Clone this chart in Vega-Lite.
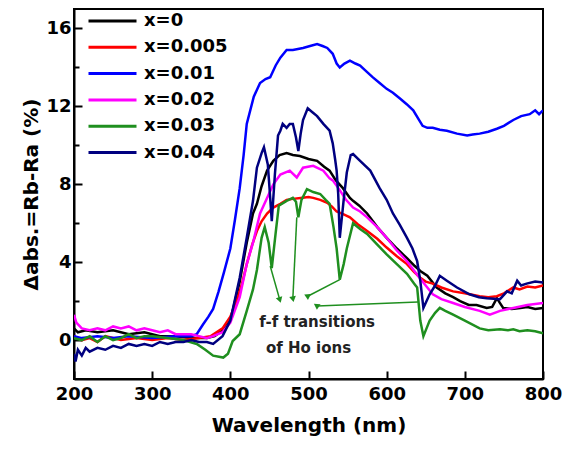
{
  "$schema": "https://vega.github.io/schema/vega-lite/v6.json",
  "autosize": "none",
  "width": 469,
  "height": 370,
  "padding": {"left": 74, "top": 9, "right": 22, "bottom": 77},
  "background": "white",
  "config": {
    "view": {"stroke": "black", "strokeWidth": 2},
    "font": "DejaVu Sans"
  },
  "datasets": {
    "curves": [
      {"s":"x=0","wl":200,"v":0.6},{"s":"x=0","wl":205,"v":0.4},{"s":"x=0","wl":215,"v":0.5},{"s":"x=0","wl":230,"v":0.4},{"s":"x=0","wl":250,"v":0.5},{"s":"x=0","wl":270,"v":0.3},{"s":"x=0","wl":290,"v":0.4},{"s":"x=0","wl":310,"v":0.2},{"s":"x=0","wl":330,"v":0.2},{"s":"x=0","wl":350,"v":0.1},{"s":"x=0","wl":370,"v":0.1},{"s":"x=0","wl":380,"v":0.2},{"s":"x=0","wl":390,"v":0.5},{"s":"x=0","wl":400,"v":1.0},{"s":"x=0","wl":412,"v":3.0},{"s":"x=0","wl":421,"v":5.0},{"s":"x=0","wl":429,"v":6.5},{"s":"x=0","wl":434,"v":7.0},{"s":"x=0","wl":440,"v":7.9},{"s":"x=0","wl":447,"v":8.7},{"s":"x=0","wl":455,"v":9.2},{"s":"x=0","wl":463,"v":9.5},{"s":"x=0","wl":472,"v":9.6},{"s":"x=0","wl":480,"v":9.5},{"s":"x=0","wl":489,"v":9.45},{"s":"x=0","wl":500,"v":9.3},{"s":"x=0","wl":511,"v":9.2},{"s":"x=0","wl":520,"v":8.9},{"s":"x=0","wl":527,"v":8.7},{"s":"x=0","wl":535,"v":8.2},{"s":"x=0","wl":544,"v":7.8},{"s":"x=0","wl":553,"v":7.3},{"s":"x=0","wl":557,"v":7.15},{"s":"x=0","wl":565,"v":6.9},{"s":"x=0","wl":575,"v":6.5},{"s":"x=0","wl":588,"v":5.8},{"s":"x=0","wl":600,"v":5.25},{"s":"x=0","wl":613,"v":4.7},{"s":"x=0","wl":626,"v":4.2},{"s":"x=0","wl":636,"v":3.8},{"s":"x=0","wl":643,"v":3.55},{"s":"x=0","wl":652,"v":3.3},{"s":"x=0","wl":664,"v":2.7},{"s":"x=0","wl":675,"v":2.4},{"s":"x=0","wl":685,"v":2.2},{"s":"x=0","wl":694,"v":2.0},{"s":"x=0","wl":705,"v":1.8},{"s":"x=0","wl":715,"v":1.8},{"s":"x=0","wl":728,"v":1.65},{"s":"x=0","wl":735,"v":1.7},{"s":"x=0","wl":741,"v":2.15},{"s":"x=0","wl":745,"v":1.9},{"s":"x=0","wl":749,"v":1.65},{"s":"x=0","wl":760,"v":1.6},{"s":"x=0","wl":771,"v":1.65},{"s":"x=0","wl":780,"v":1.7},{"s":"x=0","wl":790,"v":1.6},{"s":"x=0","wl":800,"v":1.65},

      {"s":"x=0.005","wl":200,"v":0.2},{"s":"x=0.005","wl":210,"v":0.0},{"s":"x=0.005","wl":220,"v":0.1},{"s":"x=0.005","wl":230,"v":-0.1},{"s":"x=0.005","wl":240,"v":0.2},{"s":"x=0.005","wl":260,"v":0.0},{"s":"x=0.005","wl":280,"v":0.1},{"s":"x=0.005","wl":300,"v":0.0},{"s":"x=0.005","wl":320,"v":0.1},{"s":"x=0.005","wl":340,"v":0.0},{"s":"x=0.005","wl":360,"v":0.1},{"s":"x=0.005","wl":375,"v":0.2},{"s":"x=0.005","wl":390,"v":0.6},{"s":"x=0.005","wl":400,"v":1.2},{"s":"x=0.005","wl":408,"v":2.0},{"s":"x=0.005","wl":415,"v":2.9},{"s":"x=0.005","wl":421,"v":3.9},{"s":"x=0.005","wl":428,"v":4.9},{"s":"x=0.005","wl":434,"v":5.6},{"s":"x=0.005","wl":440,"v":6.1},{"s":"x=0.005","wl":447,"v":6.5},{"s":"x=0.005","wl":455,"v":6.8},{"s":"x=0.005","wl":464,"v":7.0},{"s":"x=0.005","wl":472,"v":7.2},{"s":"x=0.005","wl":480,"v":7.25},{"s":"x=0.005","wl":490,"v":7.3},{"s":"x=0.005","wl":500,"v":7.35},{"s":"x=0.005","wl":506,"v":7.3},{"s":"x=0.005","wl":515,"v":7.2},{"s":"x=0.005","wl":524,"v":7.05},{"s":"x=0.005","wl":530,"v":6.85},{"s":"x=0.005","wl":536,"v":6.6},{"s":"x=0.005","wl":545,"v":6.45},{"s":"x=0.005","wl":553,"v":6.3},{"s":"x=0.005","wl":563,"v":5.95},{"s":"x=0.005","wl":575,"v":5.6},{"s":"x=0.005","wl":588,"v":5.2},{"s":"x=0.005","wl":600,"v":4.75},{"s":"x=0.005","wl":613,"v":4.3},{"s":"x=0.005","wl":626,"v":3.9},{"s":"x=0.005","wl":635,"v":3.5},{"s":"x=0.005","wl":643,"v":3.2},{"s":"x=0.005","wl":650,"v":3.0},{"s":"x=0.005","wl":659,"v":2.9},{"s":"x=0.005","wl":670,"v":2.7},{"s":"x=0.005","wl":685,"v":2.5},{"s":"x=0.005","wl":700,"v":2.4},{"s":"x=0.005","wl":719,"v":2.25},{"s":"x=0.005","wl":730,"v":2.2},{"s":"x=0.005","wl":741,"v":2.25},{"s":"x=0.005","wl":750,"v":2.4},{"s":"x=0.005","wl":762,"v":2.7},{"s":"x=0.005","wl":770,"v":2.6},{"s":"x=0.005","wl":780,"v":2.75},{"s":"x=0.005","wl":790,"v":2.7},{"s":"x=0.005","wl":800,"v":2.8},

      {"s":"x=0.01","wl":200,"v":0.2},{"s":"x=0.01","wl":210,"v":0.1},{"s":"x=0.01","wl":230,"v":0.2},{"s":"x=0.01","wl":250,"v":0.1},{"s":"x=0.01","wl":270,"v":0.2},{"s":"x=0.01","wl":300,"v":0.1},{"s":"x=0.01","wl":330,"v":0.2},{"s":"x=0.01","wl":350,"v":0.2},{"s":"x=0.01","wl":357,"v":0.3},{"s":"x=0.01","wl":365,"v":0.8},{"s":"x=0.01","wl":372,"v":1.2},{"s":"x=0.01","wl":378,"v":1.6},{"s":"x=0.01","wl":385,"v":2.5},{"s":"x=0.01","wl":392,"v":3.5},{"s":"x=0.01","wl":400,"v":4.7},{"s":"x=0.01","wl":406,"v":6.2},{"s":"x=0.01","wl":412,"v":7.8},{"s":"x=0.01","wl":417,"v":9.5},{"s":"x=0.01","wl":421,"v":11.1},{"s":"x=0.01","wl":430,"v":12.5},{"s":"x=0.01","wl":438,"v":13.2},{"s":"x=0.01","wl":445,"v":13.4},{"s":"x=0.01","wl":451,"v":13.5},{"s":"x=0.01","wl":458,"v":14.1},{"s":"x=0.01","wl":464,"v":14.5},{"s":"x=0.01","wl":472,"v":14.9},{"s":"x=0.01","wl":480,"v":14.9},{"s":"x=0.01","wl":493,"v":15.0},{"s":"x=0.01","wl":502,"v":15.1},{"s":"x=0.01","wl":511,"v":15.2},{"s":"x=0.01","wl":518,"v":15.1},{"s":"x=0.01","wl":524,"v":15.0},{"s":"x=0.01","wl":531,"v":14.7},{"s":"x=0.01","wl":536,"v":14.2},{"s":"x=0.01","wl":540,"v":14.0},{"s":"x=0.01","wl":546,"v":14.2},{"s":"x=0.01","wl":553,"v":14.35},{"s":"x=0.01","wl":560,"v":14.2},{"s":"x=0.01","wl":566,"v":14.1},{"s":"x=0.01","wl":574,"v":13.8},{"s":"x=0.01","wl":582,"v":13.5},{"s":"x=0.01","wl":591,"v":13.2},{"s":"x=0.01","wl":600,"v":12.9},{"s":"x=0.01","wl":608,"v":12.7},{"s":"x=0.01","wl":617,"v":12.4},{"s":"x=0.01","wl":626,"v":12.1},{"s":"x=0.01","wl":634,"v":11.8},{"s":"x=0.01","wl":640,"v":11.4},{"s":"x=0.01","wl":646,"v":11.0},{"s":"x=0.01","wl":652,"v":10.9},{"s":"x=0.01","wl":659,"v":10.9},{"s":"x=0.01","wl":668,"v":10.8},{"s":"x=0.01","wl":677,"v":10.75},{"s":"x=0.01","wl":690,"v":10.6},{"s":"x=0.01","wl":703,"v":10.5},{"s":"x=0.01","wl":710,"v":10.55},{"s":"x=0.01","wl":719,"v":10.6},{"s":"x=0.01","wl":730,"v":10.7},{"s":"x=0.01","wl":741,"v":10.85},{"s":"x=0.01","wl":750,"v":11.0},{"s":"x=0.01","wl":762,"v":11.3},{"s":"x=0.01","wl":772,"v":11.5},{"s":"x=0.01","wl":783,"v":11.6},{"s":"x=0.01","wl":790,"v":11.8},{"s":"x=0.01","wl":795,"v":11.6},{"s":"x=0.01","wl":800,"v":11.8},

      {"s":"x=0.02","wl":200,"v":1.3},{"s":"x=0.02","wl":203,"v":0.9},{"s":"x=0.02","wl":210,"v":0.6},{"s":"x=0.02","wl":220,"v":0.5},{"s":"x=0.02","wl":230,"v":0.6},{"s":"x=0.02","wl":240,"v":0.5},{"s":"x=0.02","wl":250,"v":0.7},{"s":"x=0.02","wl":260,"v":0.6},{"s":"x=0.02","wl":270,"v":0.7},{"s":"x=0.02","wl":280,"v":0.5},{"s":"x=0.02","wl":290,"v":0.6},{"s":"x=0.02","wl":300,"v":0.5},{"s":"x=0.02","wl":310,"v":0.4},{"s":"x=0.02","wl":320,"v":0.5},{"s":"x=0.02","wl":330,"v":0.3},{"s":"x=0.02","wl":340,"v":0.3},{"s":"x=0.02","wl":350,"v":0.3},{"s":"x=0.02","wl":360,"v":0.2},{"s":"x=0.02","wl":370,"v":0.1},{"s":"x=0.02","wl":378,"v":0.2},{"s":"x=0.02","wl":390,"v":0.4},{"s":"x=0.02","wl":400,"v":0.9},{"s":"x=0.02","wl":412,"v":2.2},{"s":"x=0.02","wl":421,"v":3.9},{"s":"x=0.02","wl":429,"v":5.0},{"s":"x=0.02","wl":438,"v":6.5},{"s":"x=0.02","wl":447,"v":7.3},{"s":"x=0.02","wl":455,"v":8.0},{"s":"x=0.02","wl":464,"v":8.5},{"s":"x=0.02","wl":476,"v":8.7},{"s":"x=0.02","wl":485,"v":8.35},{"s":"x=0.02","wl":493,"v":8.85},{"s":"x=0.02","wl":506,"v":8.95},{"s":"x=0.02","wl":519,"v":8.7},{"s":"x=0.02","wl":527,"v":8.3},{"s":"x=0.02","wl":531,"v":8.2},{"s":"x=0.02","wl":540,"v":7.7},{"s":"x=0.02","wl":548,"v":7.2},{"s":"x=0.02","wl":557,"v":6.8},{"s":"x=0.02","wl":566,"v":6.6},{"s":"x=0.02","wl":575,"v":6.3},{"s":"x=0.02","wl":588,"v":5.8},{"s":"x=0.02","wl":600,"v":5.25},{"s":"x=0.02","wl":613,"v":4.6},{"s":"x=0.02","wl":626,"v":4.05},{"s":"x=0.02","wl":640,"v":3.3},{"s":"x=0.02","wl":652,"v":2.7},{"s":"x=0.02","wl":659,"v":2.35},{"s":"x=0.02","wl":670,"v":2.1},{"s":"x=0.02","wl":685,"v":1.9},{"s":"x=0.02","wl":700,"v":1.7},{"s":"x=0.02","wl":719,"v":1.5},{"s":"x=0.02","wl":732,"v":1.3},{"s":"x=0.02","wl":745,"v":1.5},{"s":"x=0.02","wl":762,"v":1.65},{"s":"x=0.02","wl":780,"v":1.8},{"s":"x=0.02","wl":800,"v":1.9},

      {"s":"x=0.03","wl":200,"v":0.1},{"s":"x=0.03","wl":210,"v":0.0},{"s":"x=0.03","wl":220,"v":0.2},{"s":"x=0.03","wl":230,"v":-0.1},{"s":"x=0.03","wl":240,"v":0.2},{"s":"x=0.03","wl":250,"v":0.0},{"s":"x=0.03","wl":260,"v":0.1},{"s":"x=0.03","wl":270,"v":0.3},{"s":"x=0.03","wl":280,"v":0.1},{"s":"x=0.03","wl":290,"v":0.2},{"s":"x=0.03","wl":300,"v":0.2},{"s":"x=0.03","wl":320,"v":0.1},{"s":"x=0.03","wl":340,"v":0.0},{"s":"x=0.03","wl":357,"v":-0.2},{"s":"x=0.03","wl":368,"v":-0.5},{"s":"x=0.03","wl":378,"v":-0.8},{"s":"x=0.03","wl":391,"v":-0.9},{"s":"x=0.03","wl":397,"v":-0.7},{"s":"x=0.03","wl":403,"v":-0.05},{"s":"x=0.03","wl":412,"v":0.3},{"s":"x=0.03","wl":421,"v":1.5},{"s":"x=0.03","wl":429,"v":2.6},{"s":"x=0.03","wl":434,"v":3.6},{"s":"x=0.03","wl":440,"v":5.25},{"s":"x=0.03","wl":444,"v":5.8},{"s":"x=0.03","wl":449,"v":5.0},{"s":"x=0.03","wl":453,"v":3.7},{"s":"x=0.03","wl":458,"v":5.5},{"s":"x=0.03","wl":462,"v":6.9},{"s":"x=0.03","wl":472,"v":7.15},{"s":"x=0.03","wl":480,"v":7.3},{"s":"x=0.03","wl":484,"v":7.1},{"s":"x=0.03","wl":487,"v":6.3},{"s":"x=0.03","wl":491,"v":7.2},{"s":"x=0.03","wl":498,"v":7.75},{"s":"x=0.03","wl":506,"v":7.6},{"s":"x=0.03","wl":515,"v":7.5},{"s":"x=0.03","wl":522,"v":7.2},{"s":"x=0.03","wl":527,"v":7.0},{"s":"x=0.03","wl":532,"v":5.8},{"s":"x=0.03","wl":536,"v":4.7},{"s":"x=0.03","wl":540,"v":3.1},{"s":"x=0.03","wl":545,"v":3.9},{"s":"x=0.03","wl":549,"v":4.7},{"s":"x=0.03","wl":557,"v":6.0},{"s":"x=0.03","wl":566,"v":5.7},{"s":"x=0.03","wl":575,"v":5.45},{"s":"x=0.03","wl":588,"v":4.9},{"s":"x=0.03","wl":600,"v":4.4},{"s":"x=0.03","wl":613,"v":3.9},{"s":"x=0.03","wl":626,"v":3.4},{"s":"x=0.03","wl":635,"v":2.9},{"s":"x=0.03","wl":639,"v":2.7},{"s":"x=0.03","wl":643,"v":1.0},{"s":"x=0.03","wl":647,"v":0.2},{"s":"x=0.03","wl":651,"v":0.6},{"s":"x=0.03","wl":655,"v":1.0},{"s":"x=0.03","wl":662,"v":1.4},{"s":"x=0.03","wl":668,"v":1.65},{"s":"x=0.03","wl":675,"v":1.5},{"s":"x=0.03","wl":685,"v":1.3},{"s":"x=0.03","wl":700,"v":1.0},{"s":"x=0.03","wl":719,"v":0.6},{"s":"x=0.03","wl":730,"v":0.5},{"s":"x=0.03","wl":745,"v":0.55},{"s":"x=0.03","wl":755,"v":0.5},{"s":"x=0.03","wl":762,"v":0.55},{"s":"x=0.03","wl":770,"v":0.45},{"s":"x=0.03","wl":780,"v":0.5},{"s":"x=0.03","wl":790,"v":0.45},{"s":"x=0.03","wl":800,"v":0.35},

      {"s":"x=0.04","wl":200,"v":-0.7},{"s":"x=0.04","wl":202,"v":-1.1},{"s":"x=0.04","wl":205,"v":-0.5},{"s":"x=0.04","wl":210,"v":-0.8},{"s":"x=0.04","wl":215,"v":-0.4},{"s":"x=0.04","wl":220,"v":-0.6},{"s":"x=0.04","wl":230,"v":-0.4},{"s":"x=0.04","wl":240,"v":-0.5},{"s":"x=0.04","wl":250,"v":-0.3},{"s":"x=0.04","wl":260,"v":-0.4},{"s":"x=0.04","wl":270,"v":-0.2},{"s":"x=0.04","wl":280,"v":-0.3},{"s":"x=0.04","wl":290,"v":-0.2},{"s":"x=0.04","wl":300,"v":-0.3},{"s":"x=0.04","wl":310,"v":-0.1},{"s":"x=0.04","wl":320,"v":-0.2},{"s":"x=0.04","wl":330,"v":-0.1},{"s":"x=0.04","wl":340,"v":-0.1},{"s":"x=0.04","wl":350,"v":0.0},{"s":"x=0.04","wl":360,"v":-0.1},{"s":"x=0.04","wl":370,"v":-0.1},{"s":"x=0.04","wl":378,"v":-0.2},{"s":"x=0.04","wl":390,"v":0.2},{"s":"x=0.04","wl":400,"v":1.0},{"s":"x=0.04","wl":412,"v":3.2},{"s":"x=0.04","wl":421,"v":5.25},{"s":"x=0.04","wl":429,"v":7.15},{"s":"x=0.04","wl":434,"v":8.85},{"s":"x=0.04","wl":440,"v":9.6},{"s":"x=0.04","wl":443,"v":9.9},{"s":"x=0.04","wl":448,"v":9.0},{"s":"x=0.04","wl":451,"v":7.3},{"s":"x=0.04","wl":453,"v":6.1},{"s":"x=0.04","wl":457,"v":8.5},{"s":"x=0.04","wl":461,"v":10.5},{"s":"x=0.04","wl":464,"v":10.75},{"s":"x=0.04","wl":467,"v":11.1},{"s":"x=0.04","wl":472,"v":10.9},{"s":"x=0.04","wl":476,"v":11.1},{"s":"x=0.04","wl":480,"v":11.1},{"s":"x=0.04","wl":484,"v":10.4},{"s":"x=0.04","wl":487,"v":9.7},{"s":"x=0.04","wl":490,"v":10.6},{"s":"x=0.04","wl":493,"v":11.3},{"s":"x=0.04","wl":499,"v":11.9},{"s":"x=0.04","wl":505,"v":11.7},{"s":"x=0.04","wl":511,"v":11.5},{"s":"x=0.04","wl":519,"v":11.1},{"s":"x=0.04","wl":527,"v":10.75},{"s":"x=0.04","wl":531,"v":10.1},{"s":"x=0.04","wl":534,"v":9.3},{"s":"x=0.04","wl":536,"v":8.7},{"s":"x=0.04","wl":538,"v":7.5},{"s":"x=0.04","wl":540,"v":5.25},{"s":"x=0.04","wl":545,"v":7.2},{"s":"x=0.04","wl":549,"v":8.6},{"s":"x=0.04","wl":554,"v":9.5},{"s":"x=0.04","wl":557,"v":9.55},{"s":"x=0.04","wl":566,"v":9.2},{"s":"x=0.04","wl":579,"v":8.7},{"s":"x=0.04","wl":591,"v":7.8},{"s":"x=0.04","wl":600,"v":7.2},{"s":"x=0.04","wl":608,"v":6.5},{"s":"x=0.04","wl":617,"v":5.9},{"s":"x=0.04","wl":626,"v":5.25},{"s":"x=0.04","wl":633,"v":4.7},{"s":"x=0.04","wl":639,"v":4.05},{"s":"x=0.04","wl":643,"v":3.05},{"s":"x=0.04","wl":647,"v":1.65},{"s":"x=0.04","wl":655,"v":2.35},{"s":"x=0.04","wl":662,"v":2.8},{"s":"x=0.04","wl":668,"v":3.3},{"s":"x=0.04","wl":677,"v":3.05},{"s":"x=0.04","wl":690,"v":2.7},{"s":"x=0.04","wl":706,"v":2.35},{"s":"x=0.04","wl":718,"v":2.2},{"s":"x=0.04","wl":728,"v":2.15},{"s":"x=0.04","wl":745,"v":2.1},{"s":"x=0.04","wl":754,"v":2.5},{"s":"x=0.04","wl":760,"v":2.4},{"s":"x=0.04","wl":767,"v":3.05},{"s":"x=0.04","wl":772,"v":2.8},{"s":"x=0.04","wl":779,"v":2.9},{"s":"x=0.04","wl":790,"v":3.0},{"s":"x=0.04","wl":800,"v":2.95}
    ],
    "arrows": [
      {"id":1,"wl":451,"v":3.8,"wl2":463,"v2":2.1},
      {"id":2,"wl":485,"v":6.3,"wl2":480,"v2":2.15},
      {"id":3,"wl":540,"v":3.1,"wl2":499,"v2":2.25},
      {"id":4,"wl":640,"v":1.95,"wl2":511,"v2":1.75}
    ],
    "notes": [
      {"wl":511,"v":0.93,"t":"f-f transitions"},
      {"wl":500,"v":-0.41,"t":"of Ho ions"}
    ]
  },
  "layer": [
    {
      "data": {"name": "curves"},
      "mark": {"type": "line", "strokeWidth": 2.5, "clip": true},
      "encoding": {
        "x": {
          "field": "wl", "type": "quantitative",
          "scale": {"domain": [200, 800], "nice": false},
          "axis": {
            "title": "Wavelength (nm)",
            "values": [200,250,300,350,400,450,500,550,600,650,700,750,800],
            "labelExpr": "datum.value % 100 === 0 ? datum.label : ''",
            "labelOverlap": false, "labelFlush": false,
            "grid": false,
            "domainColor": "black", "domainWidth": 2,
            "tickColor": "black", "tickWidth": 2,
            "tickSize": {"condition": {"test": "datum.value % 100 !== 0", "value": -5}, "value": -8},
            "labelFont": "DejaVu Sans", "labelFontSize": 18, "labelFontWeight": "bold", "labelColor": "black",
            "labelPadding": 14,
            "titleFont": "DejaVu Sans", "titleFontSize": 20, "titleFontWeight": "bold", "titleColor": "black",
            "titlePadding": 12
          }
        },
        "y": {
          "field": "v", "type": "quantitative",
          "scale": {"domain": [-2, 17], "nice": false, "zero": false},
          "axis": {
            "title": "Δabs.=Rb-Ra (%)",
            "values": [0,2,4,6,8,10,12,14,16],
            "labelExpr": "datum.value % 4 === 0 ? datum.label : ''",
            "labelOverlap": false, "labelFlush": false,
            "grid": false,
            "domainColor": "black", "domainWidth": 2,
            "tickColor": "black", "tickWidth": 2,
            "tickSize": {"condition": {"test": "datum.value % 4 !== 0", "value": -5}, "value": -8},
            "labelFont": "DejaVu Sans", "labelFontSize": 18, "labelFontWeight": "bold", "labelColor": "black",
            "labelPadding": 11,
            "titleFont": "DejaVu Sans", "titleFontSize": 20, "titleFontWeight": "bold", "titleColor": "black",
            "titlePadding": 4
          }
        },
        "color": {
          "field": "s", "type": "nominal",
          "scale": {
            "domain": ["x=0","x=0.005","x=0.01","x=0.02","x=0.03","x=0.04"],
            "range": ["#000000","#ff0000","#0000ff","#ff00ff","#1f8f1f","#000080"]
          },
          "legend": {
            "title": null,
            "orient": "none",
            "legendX": 13,
            "legendY": 1,
            "symbolType": "stroke",
            "symbolSize": 2304,
            "symbolStrokeWidth": 3,
            "clipHeight": 22,
            "rowPadding": 4.3,
            "labelOffset": 6,
            "labelFont": "DejaVu Sans", "labelFontSize": 18, "labelFontWeight": "bold", "labelColor": "black",
            "padding": 0
          }
        }
      }
    },
    {
      "data": {"name": "arrows"},
      "mark": {"type": "rule", "color": "#1f8f1f", "strokeWidth": 1.5},
      "encoding": {
        "x": {"field": "wl", "type": "quantitative"},
        "y": {"field": "v", "type": "quantitative"},
        "x2": {"field": "wl2"},
        "y2": {"field": "v2"}
      }
    },
    {
      "data": {"name": "arrows"},
      "mark": {"type": "point", "shape": "triangle", "filled": true, "color": "#1f8f1f", "size": 45, "opacity": 1},
      "encoding": {
        "x": {"field": "wl2", "type": "quantitative"},
        "y": {"field": "v2", "type": "quantitative"},
        "angle": {"field": "id", "type": "ordinal", "scale": {"domain": [1,2,3,4], "range": [163,183,242,268]}, "legend": null}
      }
    },
    {
      "data": {"name": "notes"},
      "mark": {"type": "text", "font": "DejaVu Sans", "fontSize": 15, "fontWeight": "bold", "color": "#222222", "align": "center", "baseline": "middle"},
      "encoding": {
        "x": {"field": "wl", "type": "quantitative"},
        "y": {"field": "v", "type": "quantitative"},
        "text": {"field": "t"}
      }
    }
  ]
}
